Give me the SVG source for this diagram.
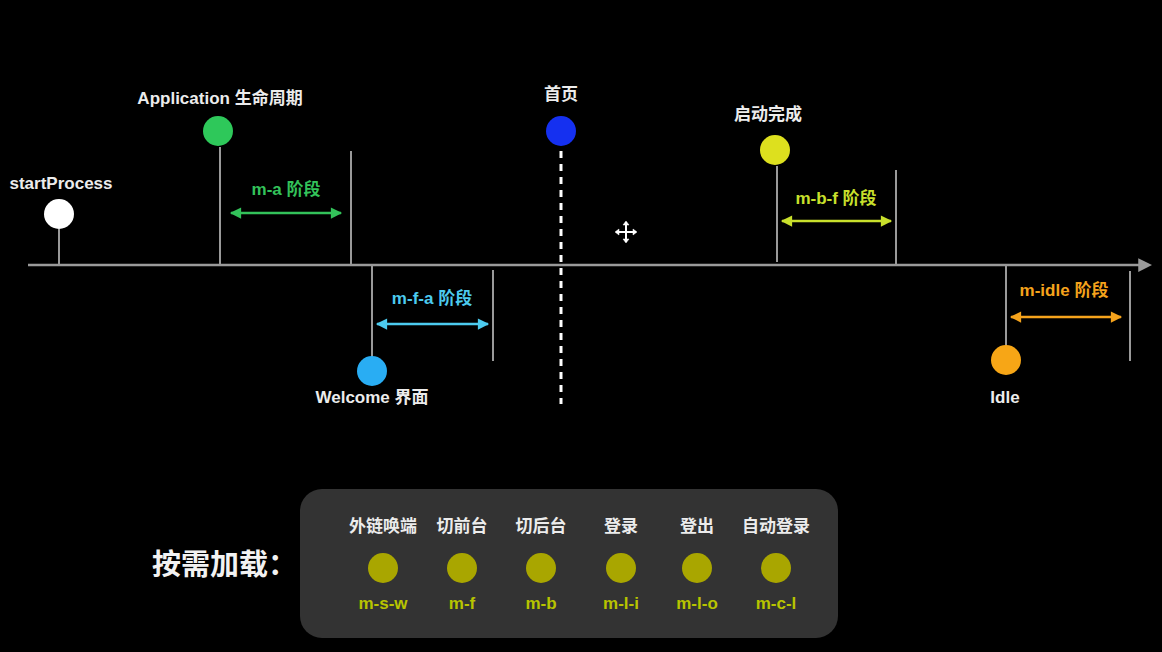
<svg xmlns="http://www.w3.org/2000/svg" width="1162" height="652" viewBox="0 0 1162 652">
<style>
text{font-family:"Liberation Sans","Noto Sans CJK SC",sans-serif;font-weight:bold;text-anchor:middle}
.lbl{fill:#ececec;font-size:17px}
.stem{stroke:#9a9a9a;stroke-width:2}
.code{fill:#b8c400;font-size:17px}
.dot{fill:#a9a600}
</style>
<defs>
<marker id="ag" viewBox="0 0 10 10" refX="9" refY="5" markerWidth="5" markerHeight="4.5" orient="auto-start-reverse"><path d="M0,0L10,5L0,10z" fill="#33c25a"/></marker>
<marker id="ac" viewBox="0 0 10 10" refX="9" refY="5" markerWidth="5" markerHeight="4.5" orient="auto-start-reverse"><path d="M0,0L10,5L0,10z" fill="#4ccbef"/></marker>
<marker id="ay" viewBox="0 0 10 10" refX="9" refY="5" markerWidth="5" markerHeight="4.5" orient="auto-start-reverse"><path d="M0,0L10,5L0,10z" fill="#c9e02c"/></marker>
<marker id="ao" viewBox="0 0 10 10" refX="9" refY="5" markerWidth="5" markerHeight="4.5" orient="auto-start-reverse"><path d="M0,0L10,5L0,10z" fill="#f5a31c"/></marker>
<marker id="ax" viewBox="0 0 10 10" refX="2" refY="5" markerWidth="5.5" markerHeight="5.5" orient="auto"><path d="M0,0L10,5L0,10z" fill="#9a9a9a"/></marker>
</defs>
<rect width="1162" height="652" fill="#000"/>
<g id="connectors">
<line x1="28" y1="265" x2="1141" y2="265" stroke="#9a9a9a" stroke-width="2.5" marker-end="url(#ax)"/>
<line class="stem" x1="59" y1="229" x2="59" y2="265"/>
<line class="stem" x1="220" y1="147" x2="220" y2="265"/>
<line class="stem" x1="351" y1="151" x2="351" y2="265"/>
<line class="stem" x1="372" y1="265" x2="372" y2="357"/>
<line class="stem" x1="493" y1="270" x2="493" y2="361"/>
<line x1="561" y1="151" x2="561" y2="404" stroke="#fff" stroke-width="3" stroke-dasharray="7,6"/>
<line class="stem" x1="777" y1="166" x2="777" y2="262"/>
<line class="stem" x1="896" y1="170" x2="896" y2="265"/>
<line class="stem" x1="1006" y1="265" x2="1006" y2="346"/>
<line class="stem" x1="1130" y1="271" x2="1130" y2="361"/>
<line x1="231" y1="213" x2="341" y2="213" stroke="#33c25a" stroke-width="2.5" marker-start="url(#ag)" marker-end="url(#ag)"/>
<line x1="377" y1="324" x2="488" y2="324" stroke="#4ccbef" stroke-width="2.5" marker-start="url(#ac)" marker-end="url(#ac)"/>
<line x1="782" y1="221" x2="891" y2="221" stroke="#c9e02c" stroke-width="2.5" marker-start="url(#ay)" marker-end="url(#ay)"/>
<line x1="1011" y1="317" x2="1121" y2="317" stroke="#f5a31c" stroke-width="2.5" marker-start="url(#ao)" marker-end="url(#ao)"/>
</g>
<g id="startProcess"><circle cx="59" cy="214" r="15" fill="#fff"/><text class="lbl" x="61" y="189">startProcess</text></g>
<g id="application"><circle cx="218" cy="131" r="15" fill="#2ec85a"/><text class="lbl" x="220" y="104">Application 生命周期</text></g>
<g id="ma"><text x="286" y="195" fill="#33c25a" font-size="17">m-a 阶段</text></g>
<g id="welcome"><circle cx="372" cy="371" r="15" fill="#29adf3"/><text class="lbl" x="372" y="403">Welcome 界面</text></g>
<g id="mfa"><text x="432" y="304" fill="#4ccbef" font-size="17">m-f-a 阶段</text></g>
<g id="home"><circle cx="561" cy="131" r="15" fill="#1530f0"/><text class="lbl" x="561" y="100">首页</text></g>
<g id="launched"><circle cx="775" cy="150" r="15" fill="#dde01e"/><text class="lbl" x="768" y="120">启动完成</text></g>
<g id="mbf"><text x="836" y="204" fill="#c9e02c" font-size="17">m-b-f 阶段</text></g>
<g id="idle"><circle cx="1006" cy="360" r="15" fill="#f7a616"/><text class="lbl" x="1005" y="403">Idle</text></g>
<g id="midle"><text x="1064" y="296" fill="#f5a31c" font-size="17">m-idle 阶段</text></g>
<g id="cursor" stroke="#fff" stroke-width="2" fill="#fff">
<line x1="616" y1="232" x2="636" y2="232"/><line x1="626" y1="222" x2="626" y2="242"/>
<path d="M626,221l-3,4h6z M626,243l-3,-4h6z M615,232l4,-3v6z M637,232l-4,-3v6z" stroke-width="0.5"/>
</g>
<g id="ondemand"><text x="152" y="575" fill="#f2f2f2" font-size="29" style="text-anchor:start">按需加载：</text></g>
<g id="panel">
<rect x="300" y="489" width="538" height="149" rx="22" fill="#333333"/>
<text class="lbl" x="383" y="532">外链唤端</text>
<text class="lbl" x="462" y="532">切前台</text>
<text class="lbl" x="541" y="532">切后台</text>
<text class="lbl" x="621" y="532">登录</text>
<text class="lbl" x="697" y="532">登出</text>
<text class="lbl" x="776" y="532">自动登录</text>
<circle class="dot" cx="383" cy="568" r="15"/>
<circle class="dot" cx="462" cy="568" r="15"/>
<circle class="dot" cx="541" cy="568" r="15"/>
<circle class="dot" cx="621" cy="568" r="15"/>
<circle class="dot" cx="697" cy="568" r="15"/>
<circle class="dot" cx="776" cy="568" r="15"/>
<text class="code" x="383" y="609">m-s-w</text>
<text class="code" x="462" y="609">m-f</text>
<text class="code" x="541" y="609">m-b</text>
<text class="code" x="621" y="609">m-l-i</text>
<text class="code" x="697" y="609">m-l-o</text>
<text class="code" x="776" y="609">m-c-l</text>
</g>
</svg>
